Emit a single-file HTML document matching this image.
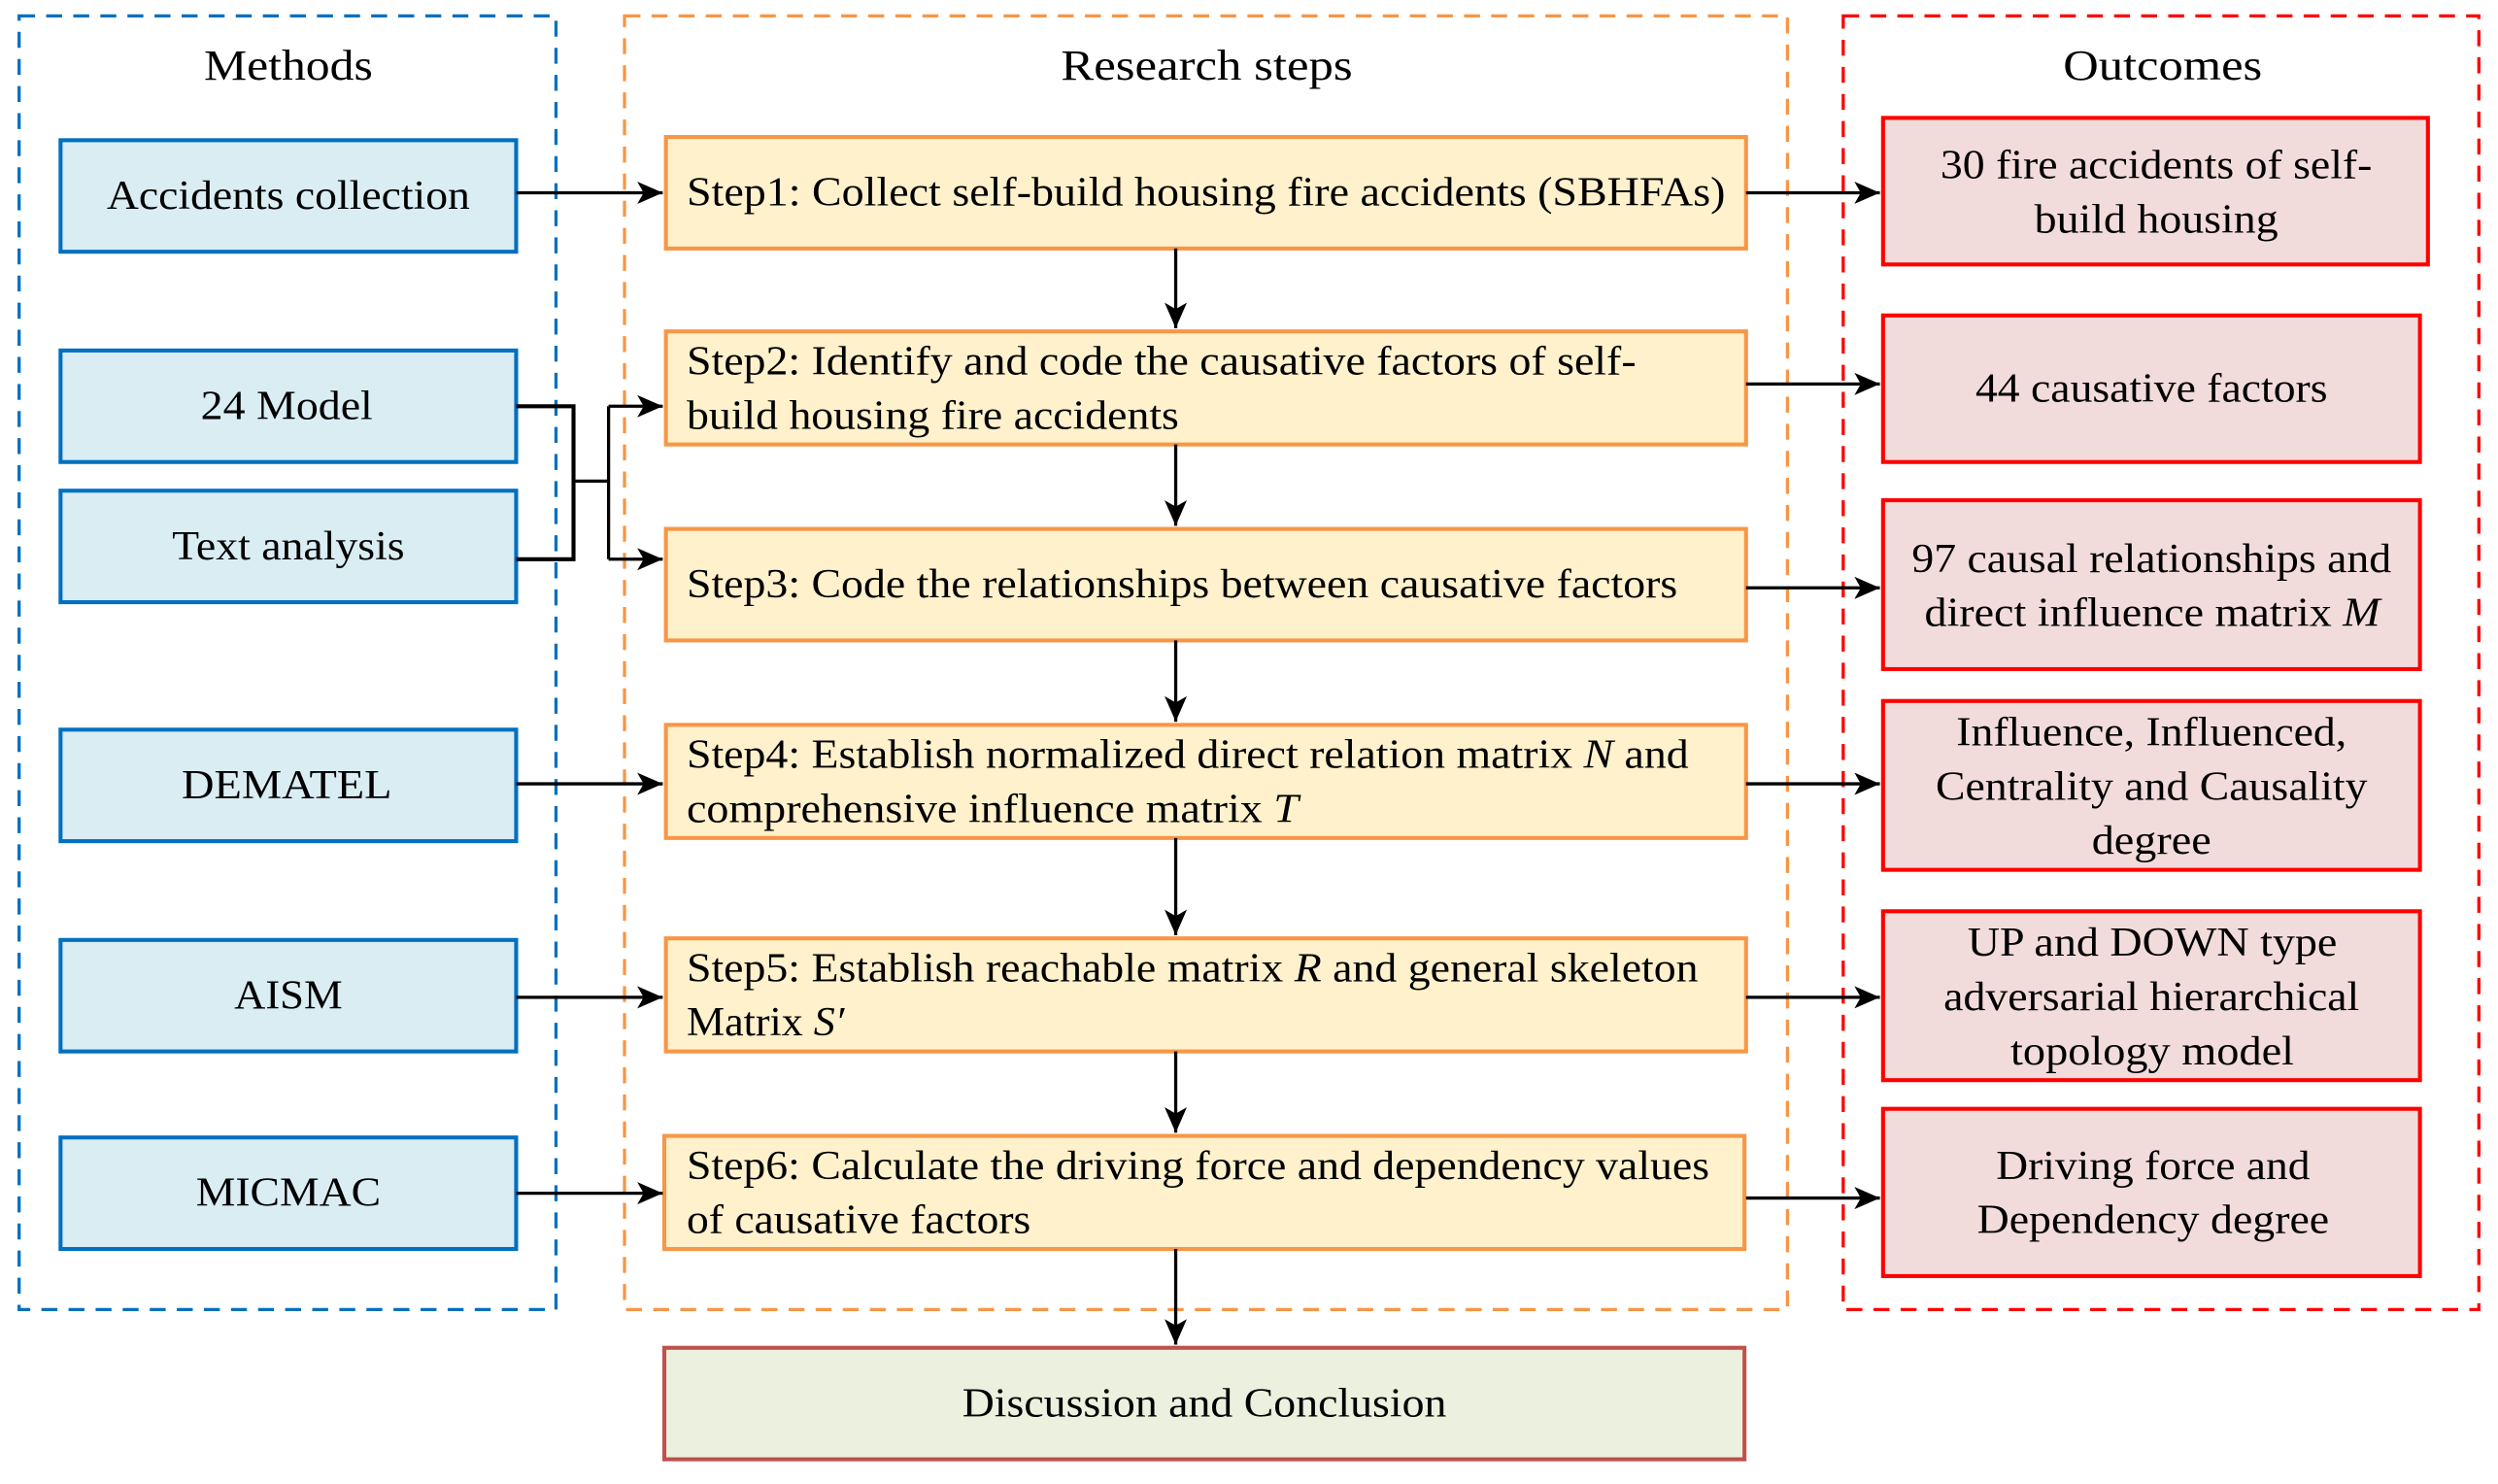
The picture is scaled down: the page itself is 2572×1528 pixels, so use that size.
<!DOCTYPE html>
<html><head><meta charset="utf-8"><style>
html,body{margin:0;padding:0;background:#fff}
svg{display:block}
</style></head><body>
<svg width="2572" height="1528" viewBox="0 0 1568 931.5" preserveAspectRatio="none" xmlns="http://www.w3.org/2000/svg" font-family="'Liberation Serif','Times New Roman','Nimbus Roman','DejaVu Serif',serif" font-size="26">
<defs>
<marker id="b" viewBox="0 0 16 14" refX="16" refY="7" markerWidth="16" markerHeight="14" markerUnits="userSpaceOnUse" orient="auto">
<path d="M0,0 L16,7 L0,14 L4,7 Z" fill="#000"/>
</marker>
</defs>
<rect x="12" y="10" width="337" height="812" fill="none" stroke="#0070c0" stroke-width="2" stroke-dasharray="10,7"/>
<rect x="392" y="10" width="730" height="812" fill="none" stroke="#f79646" stroke-width="2" stroke-dasharray="10,7"/>
<rect x="1157" y="10" width="399" height="812" fill="none" stroke="#ff0000" stroke-width="2" stroke-dasharray="10,7"/>
<g lengthAdjust="spacingAndGlyphs">
<text x="128" y="50" font-size="27" textLength="106" lengthAdjust="spacingAndGlyphs">Methods</text>
<text x="666" y="50" font-size="27" textLength="183" lengthAdjust="spacingAndGlyphs">Research steps</text>
<text x="1295" y="50" font-size="27" textLength="125" lengthAdjust="spacingAndGlyphs">Outcomes</text>
</g>
<g fill="#daedf3" stroke="#0070c0" stroke-width="2.5">
<rect x="38" y="88" width="286" height="70"/>
<rect x="38" y="220" width="286" height="70"/>
<rect x="38" y="308" width="286" height="70"/>
<rect x="38" y="458" width="286" height="70"/>
<rect x="38" y="590" width="286" height="70"/>
<rect x="38" y="714" width="286" height="70"/>
</g>
<text x="67" y="131" textLength="228" lengthAdjust="spacingAndGlyphs">Accidents collection</text>
<text x="126" y="263" textLength="108" lengthAdjust="spacingAndGlyphs">24 Model</text>
<text x="108" y="351" textLength="146" lengthAdjust="spacingAndGlyphs">Text analysis</text>
<text x="114" y="501" textLength="132" lengthAdjust="spacingAndGlyphs">DEMATEL</text>
<text x="147" y="633" textLength="68" lengthAdjust="spacingAndGlyphs">AISM</text>
<text x="123" y="757" textLength="116" lengthAdjust="spacingAndGlyphs">MICMAC</text>
<g fill="#fff1cc" stroke="#f79646" stroke-width="2.5">
<rect x="418" y="86" width="678" height="70"/>
<rect x="418" y="208" width="678" height="71"/>
<rect x="418" y="332" width="678" height="70"/>
<rect x="418" y="455" width="678" height="71"/>
<rect x="418" y="589" width="678" height="71"/>
<rect x="417" y="713" width="678" height="71"/>
</g>
<rect x="417" y="846" width="678" height="70" fill="#ebf1de" stroke="#c0504d" stroke-width="2.5"/>
<text x="431" y="129" textLength="652" lengthAdjust="spacingAndGlyphs">Step1: Collect self-build housing fire accidents (SBHFAs)</text>
<text x="431" y="235" textLength="596" lengthAdjust="spacingAndGlyphs">Step2: Identify and code the causative factors of self-</text>
<text x="431" y="269" textLength="309" lengthAdjust="spacingAndGlyphs">build housing fire accidents</text>
<text x="431" y="375" textLength="622" lengthAdjust="spacingAndGlyphs">Step3: Code the relationships between causative factors</text>
<text x="431" y="482" textLength="629" lengthAdjust="spacingAndGlyphs">Step4: Establish normalized direct relation matrix <tspan font-style="italic">N</tspan> and</text>
<text x="431" y="516" textLength="384" lengthAdjust="spacingAndGlyphs">comprehensive influence matrix <tspan font-style="italic">T</tspan></text>
<text x="431" y="616" textLength="635" lengthAdjust="spacingAndGlyphs">Step5: Establish reachable matrix <tspan font-style="italic">R</tspan> and general skeleton</text>
<text x="431" y="650" textLength="99" lengthAdjust="spacingAndGlyphs">Matrix <tspan font-style="italic">S′</tspan></text>
<text x="431" y="740" textLength="642" lengthAdjust="spacingAndGlyphs">Step6: Calculate the driving force and dependency values</text>
<text x="431" y="774" textLength="216" lengthAdjust="spacingAndGlyphs">of causative factors</text>
<text x="604" y="889" textLength="304" lengthAdjust="spacingAndGlyphs">Discussion and Conclusion</text>
<g fill="#f2dcdb" stroke="#ff0000" stroke-width="2.5">
<rect x="1182" y="74" width="342" height="92"/>
<rect x="1182" y="198" width="337" height="92"/>
<rect x="1182" y="314" width="337" height="106"/>
<rect x="1182" y="440" width="337" height="106"/>
<rect x="1182" y="572" width="337" height="106"/>
<rect x="1182" y="696" width="337" height="105"/>
</g>
<text x="1218" y="112" textLength="271" lengthAdjust="spacingAndGlyphs">30 fire accidents of self-</text>
<text x="1277" y="146" textLength="153" lengthAdjust="spacingAndGlyphs">build housing</text>
<text x="1240" y="252" textLength="221" lengthAdjust="spacingAndGlyphs">44 causative factors</text>
<text x="1200" y="359" textLength="301" lengthAdjust="spacingAndGlyphs">97 causal relationships and</text>
<text x="1208" y="393" textLength="286" lengthAdjust="spacingAndGlyphs">direct influence matrix <tspan font-style="italic">M</tspan></text>
<text x="1228" y="468" textLength="245" lengthAdjust="spacingAndGlyphs">Influence, Influenced,</text>
<text x="1215" y="502" textLength="271" lengthAdjust="spacingAndGlyphs">Centrality and Causality</text>
<text x="1313" y="536" textLength="75" lengthAdjust="spacingAndGlyphs">degree</text>
<text x="1235" y="600" textLength="232" lengthAdjust="spacingAndGlyphs">UP and DOWN type</text>
<text x="1220" y="634" textLength="261" lengthAdjust="spacingAndGlyphs">adversarial hierarchical</text>
<text x="1262" y="668" textLength="178" lengthAdjust="spacingAndGlyphs">topology model</text>
<text x="1253" y="740" textLength="197" lengthAdjust="spacingAndGlyphs">Driving force and</text>
<text x="1241" y="774" textLength="221" lengthAdjust="spacingAndGlyphs">Dependency degree</text>
<g stroke="#000" stroke-width="2" fill="none">
<line x1="324" y1="121" x2="416" y2="121" marker-end="url(#b)"/>
<line x1="324" y1="492" x2="416" y2="492" marker-end="url(#b)"/>
<line x1="324" y1="626" x2="416" y2="626" marker-end="url(#b)"/>
<line x1="324" y1="749" x2="416" y2="749" marker-end="url(#b)"/>
<path d="M324,255 H360 V351 H324" stroke-width="2.5"/>
<line x1="360" y1="302" x2="382" y2="302"/>
<line x1="382" y1="255" x2="382" y2="351"/>
<line x1="382" y1="255" x2="416" y2="255" marker-end="url(#b)"/>
<line x1="382" y1="351" x2="416" y2="351" marker-end="url(#b)"/>
<line x1="1096" y1="121" x2="1180" y2="121" marker-end="url(#b)"/>
<line x1="1096" y1="241" x2="1180" y2="241" marker-end="url(#b)"/>
<line x1="1096" y1="369" x2="1180" y2="369" marker-end="url(#b)"/>
<line x1="1096" y1="492" x2="1180" y2="492" marker-end="url(#b)"/>
<line x1="1096" y1="626" x2="1180" y2="626" marker-end="url(#b)"/>
<line x1="1096" y1="752" x2="1180" y2="752" marker-end="url(#b)"/>
<line x1="738" y1="156" x2="738" y2="206" marker-end="url(#b)"/>
<line x1="738" y1="279" x2="738" y2="330" marker-end="url(#b)"/>
<line x1="738" y1="402" x2="738" y2="453" marker-end="url(#b)"/>
<line x1="738" y1="526" x2="738" y2="587" marker-end="url(#b)"/>
<line x1="738" y1="660" x2="738" y2="711" marker-end="url(#b)"/>
<line x1="738" y1="784" x2="738" y2="844" marker-end="url(#b)"/>
</g>
</svg>
</body></html>
